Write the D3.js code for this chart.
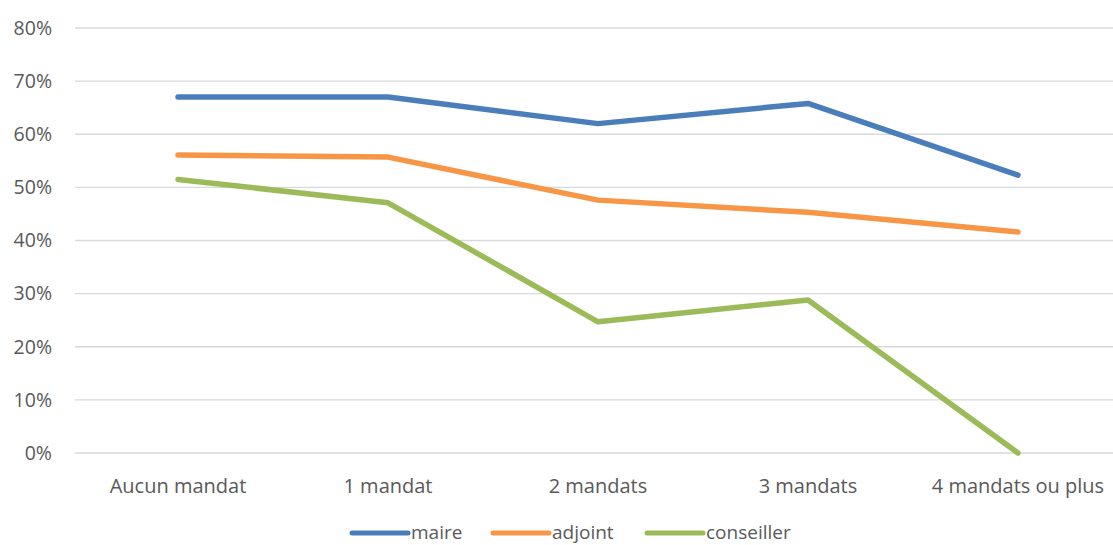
<!DOCTYPE html>
<html>
<head>
<meta charset="utf-8">
<script src="https://cdn.jsdelivr.net/npm/d3@7"></script>
<style>
  body { margin: 0; background: #fff; }
  text { font-family: "Open Sans", sans-serif; fill: #595959; }
</style>
</head>
<body>
<div id="chart"></div>
<script>
// Data
let categories = ["Aucun mandat", "1 mandat", "2 mandats", "3 mandats", "4 mandats ou plus"];
let maire = [67.0, 67.0, 62.0, 65.8, 52.3];
let adjoint = [56.1, 55.7, 47.6, 45.3, 41.6];
let conseiller = [51.5, 47.1, 24.7, 28.8, 0];
let seriesNames = ["maire", "adjoint", "conseiller"];
let seriesColors = ["#4a7ebb", "#f79646", "#9bbb59"];
let yTicks = [0, 10, 20, 30, 40, 50, 60, 70, 80];

let width = 1113, height = 545;

let svg = d3.select("#chart")
  .append("svg")
  .attr("width", width)
  .attr("height", height);

let x = d3.scalePoint()
  .domain(categories)
  .range([73, 1123])
  .padding(0.5);

let y = d3.scaleLinear()
  .domain([0, 80])
  .range([453, 28]);

// gridlines
svg.selectAll("line.grid")
  .data(yTicks)
  .enter()
  .append("line")
  .attr("class", "grid")
  .attr("x1", 75)
  .attr("x2", width)
  .attr("y1", d => y(d))
  .attr("y2", d => y(d))
  .attr("stroke", "#d9d9d9")
  .attr("stroke-width", 1.3);

// y labels
svg.selectAll("text.ylab")
  .data(yTicks)
  .enter()
  .append("text")
  .attr("class", "ylab")
  .attr("x", 52)
  .attr("y", d => y(d))
  .attr("dy", "0.35em")
  .attr("text-anchor", "end")
  .style("font-size", "19.5px")
  .text(d => d + "%");

// x labels
svg.selectAll("text.xlab")
  .data(categories)
  .enter()
  .append("text")
  .attr("class", "xlab")
  .attr("x", d => x(d))
  .attr("y", 493)
  .attr("text-anchor", "middle")
  .style("font-size", "20px")
  .text(d => d);

// lines
let line = d3.line()
  .x((d, i) => x(categories[i]))
  .y(d => y(d));

let allSeries = [maire, adjoint, conseiller];

svg.selectAll("path.series")
  .data(allSeries)
  .enter()
  .append("path")
  .attr("class", "series")
  .attr("d", line)
  .attr("fill", "none")
  .attr("stroke", (d, i) => seriesColors[i])
  .attr("stroke-width", 5.5)
  .attr("stroke-linecap", "round")
  .attr("stroke-linejoin", "round");

// legend (moved up a little so descenders are not cut)
let legendX = [352, 493, 647];
let legend = svg.selectAll("g.legend")
  .data(seriesNames)
  .enter()
  .append("g")
  .attr("class", "legend")
  .attr("transform", (d, i) => "translate(" + legendX[i] + ",533)");

legend.append("line")
  .attr("x1", 0)
  .attr("x2", 56)
  .attr("stroke", (d, i) => seriesColors[i])
  .attr("stroke-width", 5)
  .attr("stroke-linecap", "round");

legend.append("text")
  .attr("x", 59)
  .attr("dy", "0.32em")
  .style("font-size", "19px")
  .text(d => d);
</script>
</body>
</html>
